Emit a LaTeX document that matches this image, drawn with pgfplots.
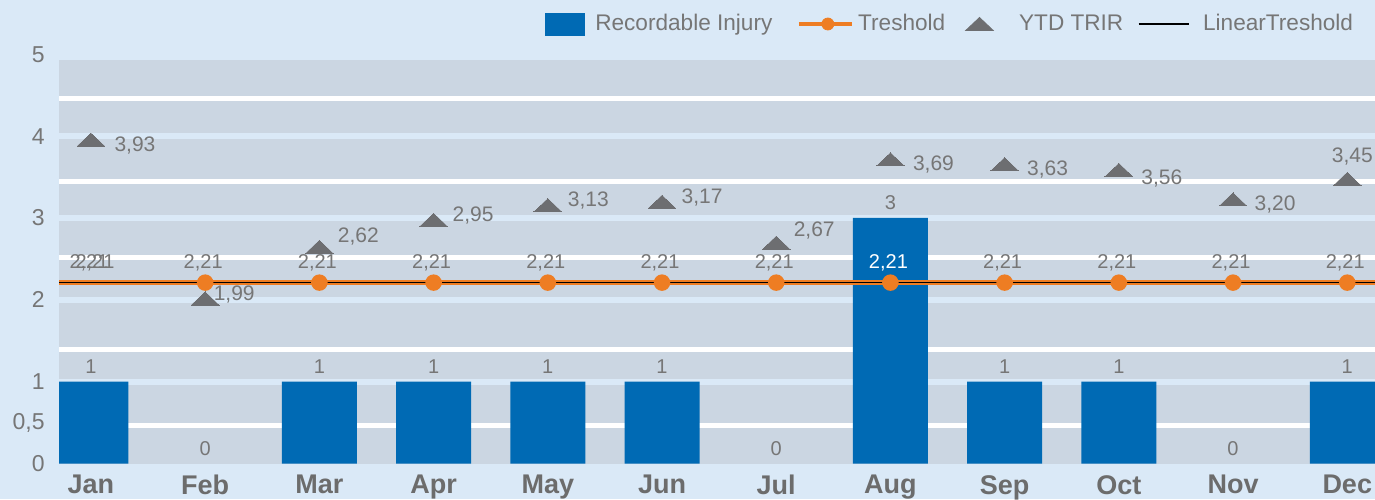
\documentclass[border=0pt]{standalone}
\usepackage{pgfplots}
\pgfplotsset{compat=1.18}
\usepackage{pgfplotstable}
\usepackage{fontspec}
\setmainfont{Liberation Sans}
\definecolor{bgblue}{RGB}{218,233,247}
\definecolor{band}{RGB}{203,214,226}
\definecolor{barblue}{RGB}{0,106,180}
\definecolor{orng}{RGB}{238,125,35}
\definecolor{trigray}{RGB}{109,110,113}
\definecolor{txtgray}{RGB}{118,118,118}
\definecolor{lblgray}{RGB}{108,108,108}

\pgfplotstableread{
x y
0 1
1 0
2 1
3 1
4 1
5 1
6 0
7 3
8 1
9 1
10 0
11 1
}\injury

\pgfplotstableread{
x y
0 2.21
1 2.21
2 2.21
3 2.21
4 2.21
5 2.21
6 2.21
7 nan
8 2.21
9 2.21
10 2.21
11 2.21
}\thresh

\pgfplotstableread{
x y dx dy
0 3.93 22 -1
1 1.99 14.5 3.5
2 2.62 19.5 7
3 2.95 19.75 4
4 3.13 20.3 4.2
5 3.17 20 4
6 2.67 19 8
7 3.69 21.5 -1
8 3.63 21.5 -1
9 3.56 21.5 -2.5
10 3.20 21 -1
11 3.45 2.5 13
}\trir

\begin{document}
\begin{tikzpicture}
\fill[bgblue] (0,0) rectangle (687.5pt,249.5pt);
\path[use as bounding box] (0,0) rectangle (687.5pt,249.5pt);
\begin{axis}[
  name=ax,
  at={(29.5pt,17.75pt)}, anchor=south west,
  scale only axis, width=658pt, height=201.75pt,
  xmin=-0.28, xmax=11.243, ymin=0, ymax=4.93,
  axis background/.style={fill=band},
  axis line style={draw=none},
  major tick length=0pt, minor tick length=0pt,
  xtick={0,...,11},
  xticklabels={Jan,Feb,Mar,Apr,May,Jun,Jul,Aug,Sep,Oct,Nov,Dec},
  xticklabel style={font=\fontsize{13.5}{15}\selectfont\bfseries, text=lblgray, anchor=north, inner sep=0pt, yshift=-5.75pt},
  ytick={1,2,3,4},
  extra y ticks={0,0.5},
  extra y tick labels={0,{0,5}},
  extra y tick style={grid=none},
  minor ytick={0.47,1.39,2.52,3.44,4.46},
  ymajorgrids, yminorgrids,
  major grid style={draw=bgblue, line width=3pt},
  minor grid style={draw=white, line width=2.5pt},
  yticklabel style={font=\fontsize{11.5}{13}\selectfont, text=txtgray, anchor=east, inner sep=0pt, xshift=-7pt},
  /pgf/number format/assume math mode=true,
  /pgf/number format/use comma,
  legend columns=-1,
  legend cell align=left,
  legend style={draw=none, fill=none, inner sep=0pt, outer sep=0pt,
    column sep=0pt, at={(0.9833,1.0892)}, anchor=east,
    font=\fontsize{11.3}{13}\selectfont,
    nodes={inner sep=0pt, text=txtgray}},
]
\addlegendimage{legend image code/.code={\fill[barblue] (0pt,-5.5pt) rectangle (19.5pt,5.5pt); \path (25pt,0pt);}}
\addlegendentry{Recordable Injury}
\addlegendimage{legend image code/.code={\path (0pt,0pt); \draw[orng, line width=2pt] (13pt,0pt) -- (39.5pt,0pt); \fill[orng] (27.5pt,0pt) circle (3pt); \path (42.5pt,0pt);}}
\addlegendentry{Treshold}
\addlegendimage{legend image code/.code={\path (0pt,0pt); \fill[trigray] (10pt,-3.25pt) -- (23.75pt,-3.25pt) -- (16.9pt,3.25pt) -- cycle; \path (36.5pt,0pt);}}
\addlegendentry{YTD TRIR}
\addlegendimage{legend image code/.code={\path (0pt,0pt); \draw[black, line width=0.8pt] (7.5pt,0pt) -- (32.5pt,0pt); \path (39.5pt,0pt);}}
\addlegendentry{LinearTreshold}

% Recordable Injury bars (zero months have no bar)
\addplot[forget plot, ybar, bar width=37.5pt, bar shift=0pt, fill=barblue, draw=none,
  y filter/.expression={y<0.01 ? nan : y}]
  table[x=x,y=y]{\injury};
% Recordable Injury value labels
\addplot[forget plot, draw=none,
  nodes near coords,
  every node near coord/.append style={font=\fontsize{10}{12}\selectfont, text=txtgray,
    anchor=center, inner sep=0pt, text depth=0pt, yshift=7.5pt}]
  table[x=x,y=y]{\injury};

% Treshold line with markers
\addplot[forget plot, orng, line width=2.2pt, mark=*, mark size=3pt,
  mark indices={2,3,4,5,6,7,8,9,10,11,12,13},
  mark options={fill=orng, draw=none}]
  coordinates {(-0.3,2.21) (0,2.21) (1,2.21) (2,2.21) (3,2.21) (4,2.21) (5,2.21)
               (6,2.21) (7,2.21) (8,2.21) (9,2.21) (10,2.21) (11,2.21) (11.3,2.21)};

% LinearTreshold
\addplot[forget plot, black, line width=0.8pt]
  coordinates {(-0.3,2.21) (11.3,2.21)};

% Treshold labels
\addplot[forget plot, draw=none,
  nodes near coords,
  /pgf/number format/fixed, /pgf/number format/fixed zerofill, /pgf/number format/precision=2,
  every node near coord/.append style={font=\fontsize{10}{12}\selectfont, text=txtgray,
    anchor=center, inner sep=0pt, text depth=0pt, xshift=-1pt, yshift=10.5pt}]
  table[x=x,y=y]{\thresh};
\addplot[forget plot, draw=none,
  nodes near coords,
  /pgf/number format/fixed, /pgf/number format/fixed zerofill, /pgf/number format/precision=2,
  every node near coord/.append style={font=\fontsize{10}{12}\selectfont, text=white,
    anchor=center, inner sep=0pt, text depth=0pt, xshift=-1pt, yshift=10.5pt}]
  coordinates {(7,2.21)};

% LinearTreshold label (Jan)
\addplot[forget plot, draw=none,
  nodes near coords,
  /pgf/number format/fixed, /pgf/number format/fixed zerofill, /pgf/number format/precision=2,
  every node near coord/.append style={font=\fontsize{10}{12}\selectfont, text=txtgray,
    anchor=center, inner sep=0pt, text depth=0pt, xshift=2pt, yshift=10.5pt}]
  coordinates {(0,2.21)};

% YTD TRIR
\addplot[forget plot, trigray, only marks, mark=triangle*, mark size=8pt,
  mark options={yscale=0.55, fill=trigray, draw=trigray, line width=0pt},
  nodes near coords,
  visualization depends on={\thisrow{dx}\as\dx},
  visualization depends on={\thisrow{dy}\as\dy},
  /pgf/number format/fixed, /pgf/number format/fixed zerofill, /pgf/number format/precision=2,
  every node near coord/.append style={font=\fontsize{10.5}{12}\selectfont, text=txtgray,
    anchor=center, inner sep=0pt, text depth=0pt, xshift=\dx pt, yshift=\dy pt}]
  table[x=x,y=y]{\trir};
\end{axis}
\node[anchor=east, inner sep=0pt, font=\fontsize{11.5}{13}\selectfont, text=txtgray]
  at ([xshift=-7pt,yshift=2.85pt]ax.north west) {5};
\end{tikzpicture}
\end{document}
